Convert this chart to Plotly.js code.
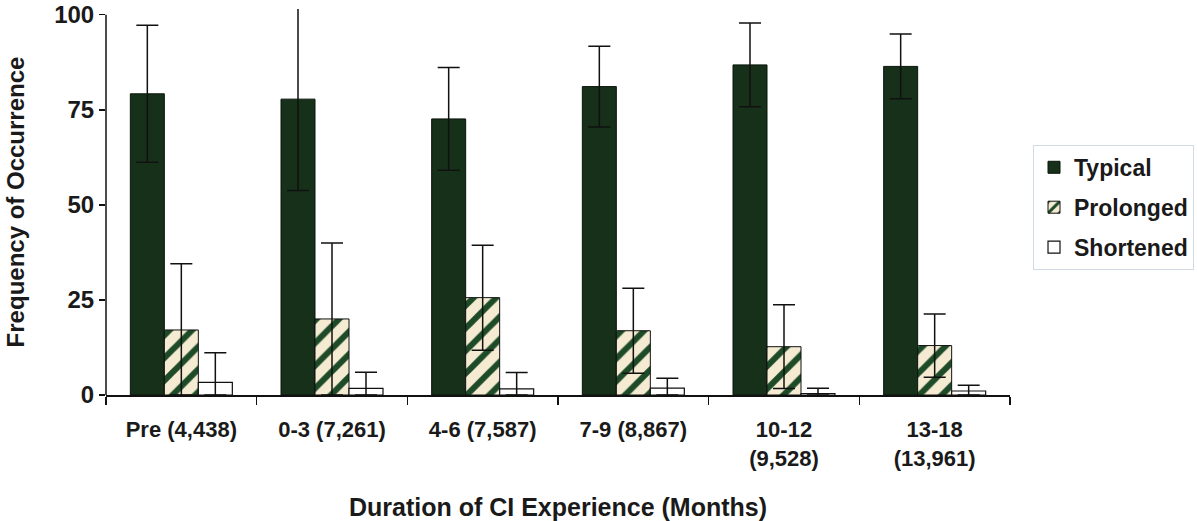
<!DOCTYPE html>
<html>
<head>
<meta charset="utf-8">
<script src="https://cdn.plot.ly/plotly-3.0.1.min.js"></script>
<style>html,body{margin:0;padding:0;background:#fff;}#chart{width:1197px;height:521px;}</style>
</head>
<body>
<div id="chart"></div>
<script>
const categories = ["Pre (4,438)", "0-3 (7,261)", "4-6 (7,587)", "7-9 (8,867)", "10-12<br>(9,528)", "13-18<br>(13,961)"];
const typical = [79.2, 77.8, 72.6, 81.1, 86.8, 86.4];
const typicalErr = [18, 24, 13.5, 10.6, 11, 8.5];
const prolonged = [17.1, 20.0, 25.6, 16.9, 12.7, 13.0];
const prolongedErr = [17.4, 20, 13.8, 11.2, 11, 8.3];
const shortened = [3.3, 1.75, 1.6, 1.8, 0.4, 1.05];
const shortenedErr = [7.8, 4.2, 4.3, 2.6, 1.4, 1.5];
const seriesNames = ["Typical", "Prolonged", "Shortened"];
const yTicks = [0, 25, 50, 75, 100];

const FONT = "Liberation Sans, Arial, sans-serif";
const TXT = '#1a1a1a';
function errObj(vals, errs) {
  return {
    type: 'data', symmetric: false,
    array: errs,
    arrayminus: errs.map((e, i) => Math.min(e, vals[i])),
    color: '#111', thickness: 1.5, width: 11
  };
}
const traces = [
  {
    type: 'bar', name: seriesNames[0], x: categories, y: typical, legendgroup: 'a',
    marker: {color: '#16301a', line: {color: '#0a150b', width: 1}},
    error_y: errObj(typical, typicalErr)
  },
  {
    type: 'bar', name: seriesNames[1], x: categories, y: prolonged, legendgroup: 'b',
    marker: {color: '#f4ebd2', line: {color: '#111', width: 1},
      pattern: {shape: '/', fgcolor: '#1d4a27', bgcolor: '#f4ebd2', size: 16, solidity: 0.38}},
    error_y: errObj(prolonged, prolongedErr)
  },
  {
    type: 'bar', name: seriesNames[2], x: categories, y: shortened, legendgroup: 'c',
    marker: {color: '#ffffff', line: {color: '#111', width: 1.2}},
    error_y: errObj(shortened, shortenedErr)
  }
];
const layout = {
  width: 1197, height: 521,
  margin: {l: 106, r: 187, t: 9, b: 126, autoexpand: false},
  paper_bgcolor: '#fff', plot_bgcolor: '#fff',
  barmode: 'group', bargap: 0.323, bargroupgap: 0,
  font: {family: FONT, color: TXT},
  showlegend: true,
  legend: {
    xref: 'container', yref: 'container',
    x: 0.863, xanchor: 'left', y: 0.722, yanchor: 'top',
    font: {family: FONT, size: 23, weight: 'bold', color: TXT},
    bordercolor: '#d0dbe6', borderwidth: 1, bgcolor: '#fff',
    tracegroupgap: 7, itemwidth: 30
  },
  xaxis: {
    type: 'category', showline: true, linecolor: '#111', linewidth: 1.5,
    ticks: 'outside', tickson: 'boundaries', ticklen: 8, tickcolor: '#111', tickwidth: 1.5,
    ticklabelstandoff: 14,
    showgrid: false, zeroline: false, automargin: false,
    tickfont: {family: FONT, size: 22, weight: 'bold', color: TXT},
    title: {text: 'Duration of CI Experience (Months)', standoff: 31,
      font: {family: FONT, size: 25, weight: 'bold', color: TXT}}
  },
  yaxis: {
    range: [0, 101.5], tickvals: yTicks, ticktext: yTicks.map(String),
    showline: false,
    ticks: 'outside', ticklen: 6, tickcolor: '#111', tickwidth: 1.5,
    showgrid: false, zeroline: false, automargin: false,
    tickfont: {family: FONT, size: 24, weight: 'bold', color: TXT},
    title: {text: 'Frequency of Occurrence', standoff: 22,
      font: {family: FONT, size: 24, weight: 'bold', color: TXT}}
  },
  shapes: [
    {type: 'line', xref: 'paper', yref: 'y', x0: 0, x1: 0, y0: yTicks[0], y1: yTicks[yTicks.length - 1],
     line: {color: '#111', width: 1.5}}
  ]
};
Plotly.newPlot('chart', traces, layout, {displayModeBar: false, staticPlot: true});
</script>
</body>
</html>
